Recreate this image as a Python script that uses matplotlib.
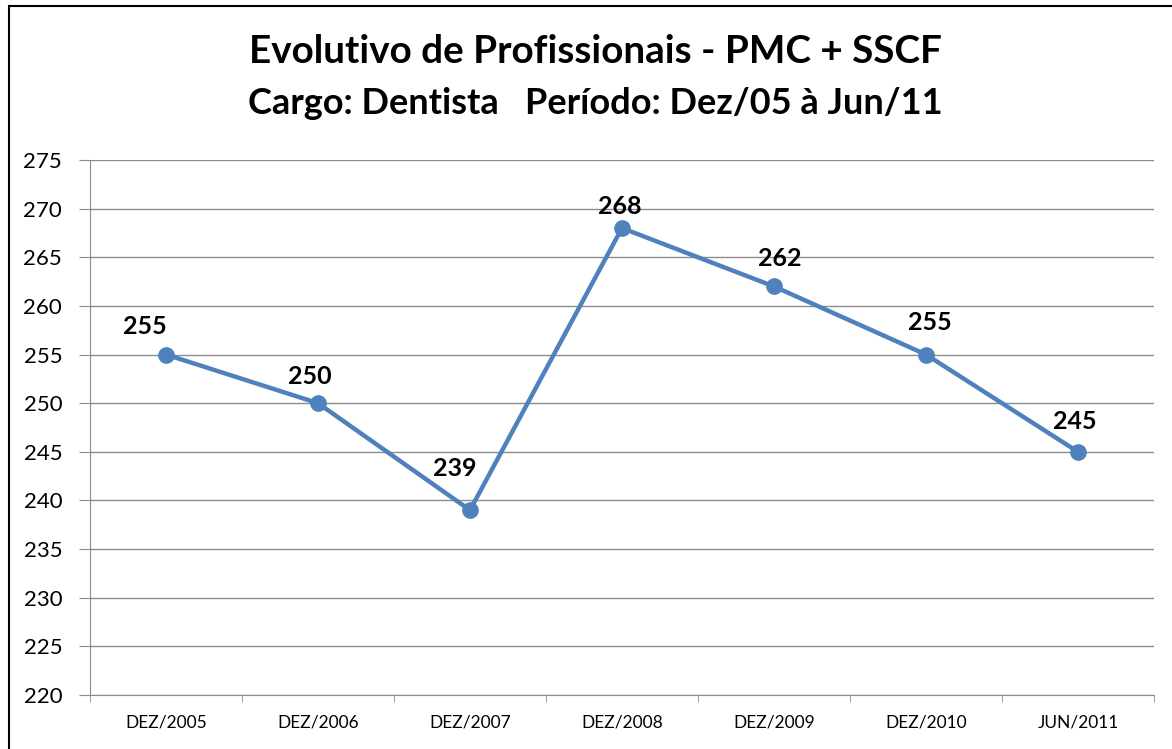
import matplotlib
matplotlib.use("Agg")
import matplotlib.pyplot as plt
from matplotlib.patches import Rectangle
from matplotlib.ticker import FixedLocator, MultipleLocator

periods = ["DEZ/2005", "DEZ/2006", "DEZ/2007", "DEZ/2008", "DEZ/2009", "DEZ/2010", "JUN/2011"]
professionals = [255, 250, 239, 268, 262, 255, 245]

title_1 = "Evolutivo de Profissionais - PMC + SSCF"
title_2 = "Cargo: Dentista   Período: Dez/05 à Jun/11"

# label placement, in pixels from the marker (the way Excel nudged them)
label_dx = [-21, -8, -15, -2, 6, 4, -3]
label_dy = [28, 27, 42, 22, 28, 32, 30]

plt.rcParams['font.family'] = ['Lato', 'DejaVu Sans']

fig = plt.figure(figsize=(11.72, 7.49), dpi=100)
ax = fig.add_axes([0.0768, 0.0721, 0.9078, 0.7143])

x = list(range(len(periods)))
ax.plot(x, professionals, color="#4F81BD", lw=3.2, marker="o", ms=11, zorder=3)
for xi, v, dx, dy in zip(x, professionals, label_dx, label_dy):
    ax.annotate(str(v), (xi, v), xytext=(dx * 0.72, dy * 0.72), textcoords="offset points",
                ha="center", va="center", fontsize=18, fontweight="bold")

ax.set_xlim(-0.5, len(periods) - 0.5)
ax.set_ylim(220, 275)
ax.yaxis.set_major_locator(MultipleLocator(5))
ax.grid(axis="y", color="#8c8c8c", lw=1)
ax.set_axisbelow(True)

ax.set_xticks(x)
ax.set_xticklabels(periods, fontsize=12.5)
ax.xaxis.set_minor_locator(FixedLocator([i - 0.5 for i in range(len(periods) + 1)]))
ax.tick_params(axis="x", which="major", length=0, pad=14)
ax.tick_params(axis="x", which="minor", length=5, color="#8c8c8c", direction="out")
ax.tick_params(axis="y", length=8, color="#8c8c8c", labelsize=16, pad=12)

for side in ["top", "right"]:
    ax.spines[side].set_visible(False)
for side in ["left", "bottom"]:
    ax.spines[side].set_color("#8c8c8c")

fig.text(0.508, 0.931, title_1, ha="center", va="center", fontsize=27.8, fontweight="bold")
fig.text(0.508, 0.862, title_2, ha="center", va="center", fontsize=26, fontweight="bold")

fig.patches.append(Rectangle((9 / 1172, -0.1), 1.2, 1.1 - 6 / 749, transform=fig.transFigure,
                             fill=False, ec="black", lw=1.5))

fig.savefig("out.png", dpi=100)
